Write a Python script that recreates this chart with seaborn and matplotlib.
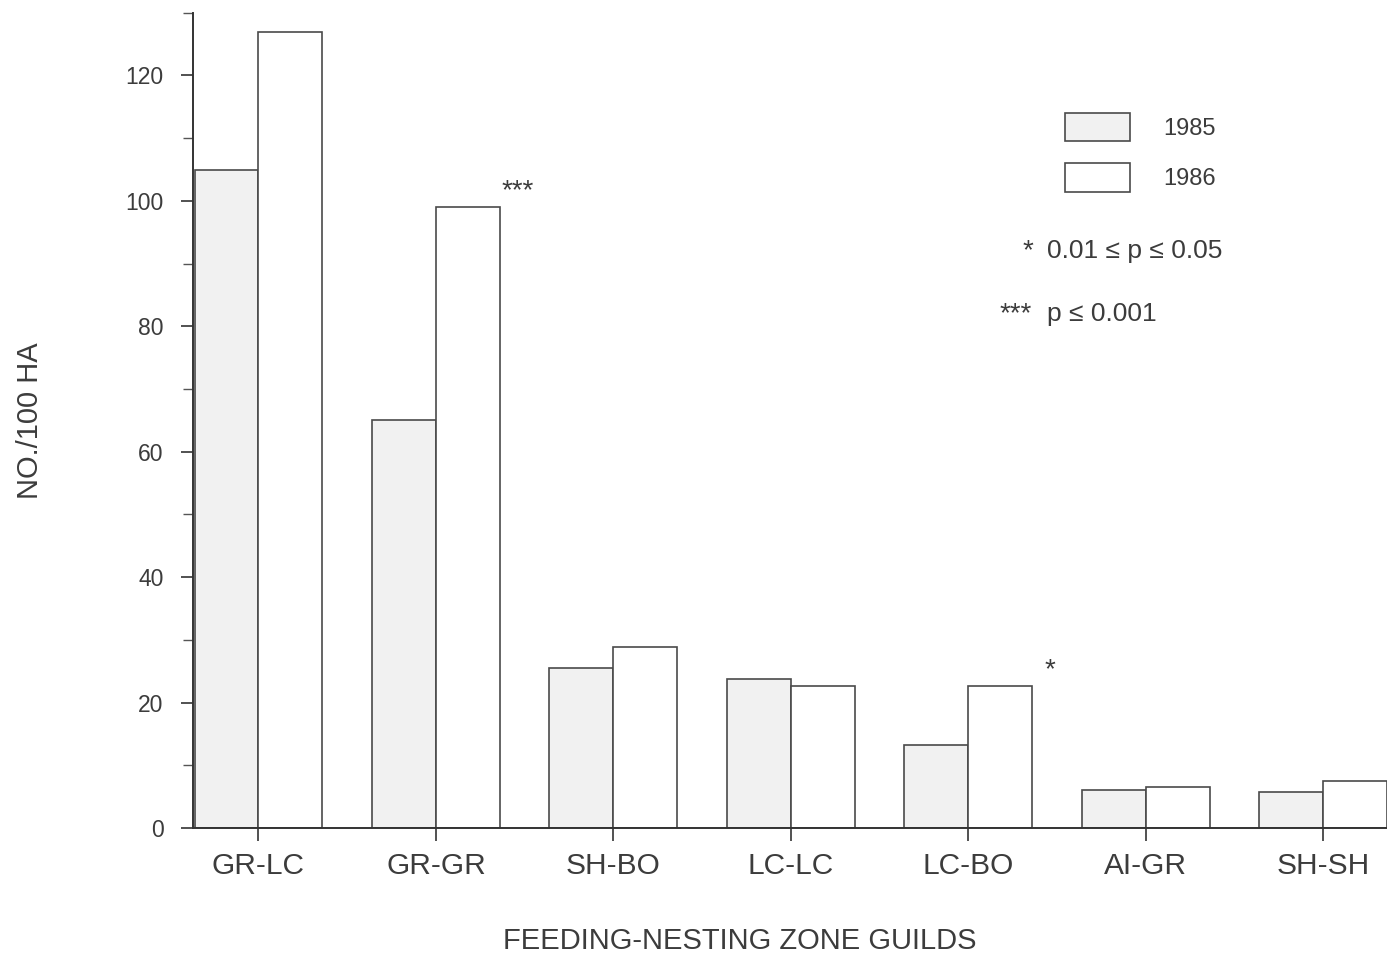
import numpy as np
import pandas as pd
import seaborn as sns
import matplotlib.pyplot as plt

# 鸟类取食-筑巢带 guild 密度 (1985 vs 1986)
guilds = ['GR-LC', 'GR-GR', 'SH-BO', 'LC-LC', 'LC-BO', 'AI-GR', 'SH-SH']
years = ['1985', '1986']
density_1985 = [105, 65, 25.5, 23.8, 13.2, 6.1, 5.7]
density_1986 = [127, 99, 28.8, 22.6, 22.6, 6.5, 7.5]
# 显著性标记 (guild -> 星号)
signif = {'GR-GR': '***', 'LC-BO': '*'}

FONT = ['Liberation Sans', 'DejaVu Sans']
INK = '#3c3c3c'

df = pd.DataFrame({
    'guild': guilds * 2,
    'year': [years[0]] * len(guilds) + [years[1]] * len(guilds),
    'density': density_1985 + density_1986,
})

sns.set_style('ticks')
plt.rcParams['font.family'] = FONT

fig = plt.figure(figsize=(13.87, 9.58), dpi=100)
ax = fig.add_axes([0.139, 0.1357, 0.861, 0.851])

sns.barplot(data=df, x='guild', y='density', hue='year', order=guilds,
            hue_order=years, palette=['#f1f1f1', 'white'], width=0.72,
            edgecolor='#4a4a4a', linewidth=1.2, ax=ax)

ax.set_xlim(-0.37, 6.36)
ax.set_ylim(0, 130)
ax.set_yticks(np.arange(0, 121, 20))
ax.set_yticks(np.arange(10, 131, 20), minor=True)

sns.despine(ax=ax)
for side in ['left', 'bottom']:
    ax.spines[side].set_color('#333333')
    ax.spines[side].set_linewidth(1.4)

ax.tick_params(axis='y', which='major', length=9, width=1.2, pad=12,
               labelsize=16.5, colors='#333333', labelcolor=INK)
ax.tick_params(axis='y', which='minor', length=7, width=1.0, colors='#555555')
ax.tick_params(axis='x', length=9, width=1.2, pad=8, labelsize=21.5,
               colors='#333333', labelcolor=INK)

ax.set_xlabel('FEEDING-NESTING ZONE GUILDS', fontsize=21, color=INK)
ax.xaxis.set_label_coords(0.458, -0.122)
ax.set_ylabel('NO./100 HA', fontsize=21, color=INK)
ax.yaxis.set_label_coords(-0.125, 0.5)

# 显著性星号放在 1986 柱子右上角
bars_1986 = ax.containers[1]
for guild, mark in signif.items():
    bar = bars_1986[guilds.index(guild)]
    ax.text(bar.get_x() + bar.get_width() + 0.1, bar.get_height() + 1.5, mark,
            ha='center', va='baseline', fontsize=20, color=INK)

ax.legend(loc='upper left', bbox_to_anchor=(1065 / 1387, 1 - 113 / 958),
          bbox_transform=fig.transFigure, frameon=False, borderpad=0,
          borderaxespad=0, handlelength=2.75, handleheight=1.45,
          labelspacing=0.95, handletextpad=1.4, fontsize=17, labelcolor=INK)

fig.text(1033 / 1387, 1 - 251 / 958, '*', ha='right', va='center',
         fontsize=20, color=INK)
fig.text(1047 / 1387, 1 - 251 / 958, '0.01 \u2264 p \u2264 0.05', ha='left',
         va='center', fontsize=19, color=INK)
fig.text(1032 / 1387, 1 - 314 / 958, '***', ha='right', va='center',
         fontsize=20, color=INK)
fig.text(1047 / 1387, 1 - 314 / 958, 'p \u2264 0.001', ha='left',
         va='center', fontsize=19, color=INK)

fig.savefig('out.png', dpi=100)
